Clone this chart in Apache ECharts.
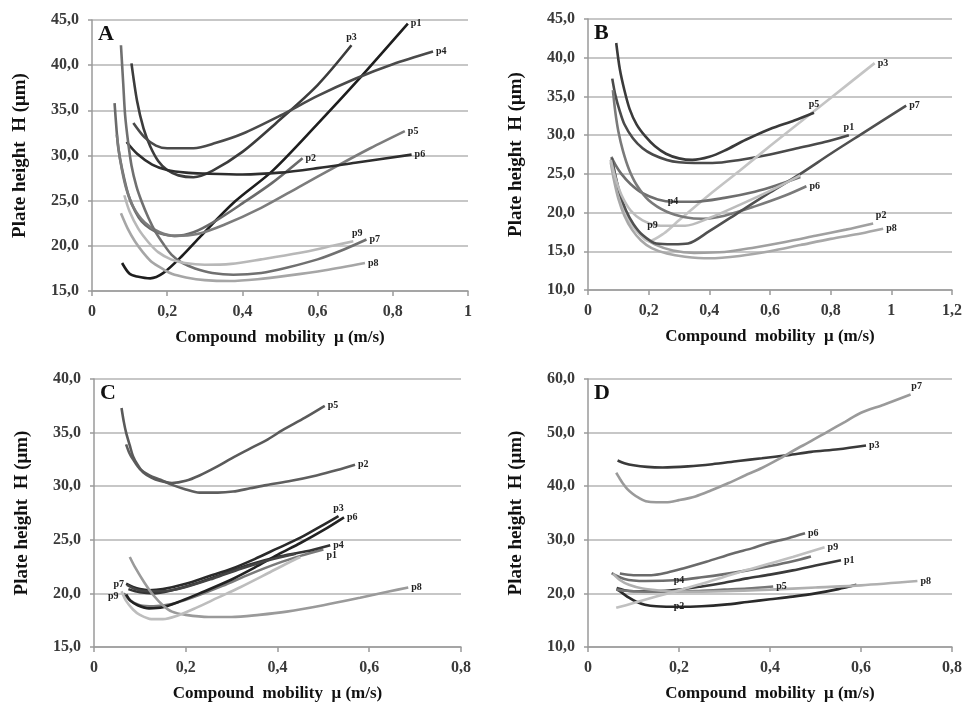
<!DOCTYPE html>
<html><head><meta charset="utf-8">
<script src="https://cdn.jsdelivr.net/npm/echarts@6/dist/echarts.min.js"></script>
<style>html,body{margin:0;padding:0;background:#fff}#c{width:965px;height:703px}</style>
</head><body><div id="c"></div>
<script>
// ---------- DATA ----------
const seriesNames = ['p1','p2','p3','p4','p5','p6','p7','p8','p9'];
// Panel A
const A_p1 = [[0.08,18.1],[0.1,16.9],[0.12,16.6],[0.155,16.4],[0.19,17.0],[0.24,18.9],[0.29,21.1],[0.38,24.9],[0.48,28.3],[0.6,33.5],[0.7,38.0],[0.84,44.6]];
const A_p2 = [[0.06,35.8],[0.065,33.0],[0.07,30.8],[0.08,28.5],[0.097,25.6],[0.115,23.8],[0.132,22.7],[0.155,21.9],[0.18,21.4],[0.22,21.1],[0.27,21.5],[0.33,22.8],[0.4,24.7],[0.48,27.0],[0.56,29.7]];
const A_p3 = [[0.105,40.2],[0.12,36.0],[0.137,33.0],[0.155,31.0],[0.176,29.4],[0.2,28.4],[0.23,27.8],[0.27,27.6],[0.32,28.3],[0.4,30.4],[0.49,33.6],[0.6,37.8],[0.69,42.2]];
const A_p4 = [[0.11,33.6],[0.14,32.0],[0.17,31.1],[0.2,30.8],[0.27,30.8],[0.33,31.4],[0.4,32.4],[0.5,34.4],[0.6,36.6],[0.7,38.5],[0.8,40.1],[0.907,41.5]];
const A_p5 = [[0.066,32.3],[0.075,29.5],[0.09,26.5],[0.11,24.3],[0.14,22.6],[0.18,21.5],[0.22,21.1],[0.28,21.3],[0.35,22.3],[0.45,24.2],[0.55,26.5],[0.65,28.8],[0.74,30.8],[0.832,32.7]];
const A_p6 = [[0.092,31.5],[0.12,30.2],[0.16,29.0],[0.2,28.4],[0.25,28.1],[0.3,28.0],[0.4,27.9],[0.5,28.1],[0.6,28.6],[0.7,29.2],[0.85,30.1]];
const A_p7 = [[0.077,42.2],[0.083,38.0],[0.088,34.5],[0.096,31.5],[0.105,28.9],[0.118,26.6],[0.132,24.9],[0.15,23.1],[0.168,21.6],[0.19,20.2],[0.212,19.0],[0.24,18.1],[0.274,17.5],[0.32,17.0],[0.376,16.8],[0.45,17.0],[0.52,17.6],[0.6,18.5],[0.67,19.6],[0.73,20.7]];
const A_p8 = [[0.077,23.6],[0.095,21.9],[0.114,20.5],[0.135,19.3],[0.159,18.2],[0.19,17.4],[0.212,16.9],[0.25,16.5],[0.3,16.2],[0.367,16.1],[0.44,16.3],[0.52,16.7],[0.62,17.3],[0.726,18.1]];
const A_p9 = [[0.086,25.6],[0.1,23.8],[0.123,21.9],[0.15,20.4],[0.176,19.3],[0.21,18.5],[0.247,18.1],[0.3,17.9],[0.37,18.0],[0.45,18.5],[0.55,19.2],[0.64,20.0],[0.695,20.5]];
// Panel B
const B_p1 = [[0.08,37.3],[0.09,35.2],[0.104,33.2],[0.12,31.4],[0.148,29.6],[0.18,28.3],[0.213,27.5],[0.26,26.8],[0.3,26.5],[0.35,26.4],[0.41,26.4],[0.5,26.8],[0.6,27.5],[0.7,28.4],[0.78,29.1],[0.86,30.0]];
const B_p2 = [[0.08,27.0],[0.09,24.8],[0.105,22.3],[0.125,20.0],[0.15,18.2],[0.18,16.9],[0.22,15.9],[0.28,15.1],[0.35,14.8],[0.45,14.9],[0.55,15.5],[0.65,16.2],[0.75,17.0],[0.85,17.8],[0.94,18.6]];
const B_p3 = [[0.075,26.8],[0.09,23.8],[0.11,21.0],[0.135,18.9],[0.17,17.2],[0.2,16.3],[0.25,17.3],[0.3,19.0],[0.4,22.3],[0.5,25.4],[0.6,28.6],[0.7,31.7],[0.8,34.8],[0.945,39.3]];
const B_p4 = [[0.077,27.2],[0.09,26.2],[0.11,25.0],[0.14,23.7],[0.18,22.5],[0.23,21.7],[0.28,21.4],[0.35,21.4],[0.45,21.9],[0.55,22.7],[0.62,23.5],[0.7,24.6]];
const B_p5 = [[0.093,41.9],[0.105,38.5],[0.12,35.8],[0.137,33.4],[0.16,31.4],[0.19,29.8],[0.22,28.6],[0.257,27.6],[0.3,27.0],[0.344,26.8],[0.4,27.2],[0.45,28.0],[0.52,29.4],[0.6,30.8],[0.68,31.9],[0.745,32.9]];
const B_p6 = [[0.082,35.8],[0.09,33.0],[0.1,30.5],[0.115,28.0],[0.135,25.6],[0.16,23.6],[0.2,21.6],[0.26,20.1],[0.32,19.4],[0.38,19.2],[0.45,19.6],[0.55,20.8],[0.65,22.2],[0.72,23.4]];
const B_p7 = [[0.078,27.0],[0.09,24.8],[0.105,22.5],[0.125,20.3],[0.15,18.5],[0.18,17.1],[0.225,16.0],[0.28,15.9],[0.33,16.0],[0.4,17.6],[0.5,20.1],[0.6,22.6],[0.7,25.0],[0.8,27.6],[0.9,30.1],[1.049,33.8]];
const B_p8 = [[0.075,26.5],[0.085,24.3],[0.1,21.8],[0.12,19.6],[0.145,17.8],[0.175,16.4],[0.21,15.4],[0.26,14.7],[0.32,14.3],[0.4,14.1],[0.5,14.4],[0.6,15.0],[0.7,15.8],[0.8,16.6],[0.9,17.3],[0.973,17.9]];
const B_p9 = [[0.075,26.8],[0.09,24.5],[0.11,22.3],[0.14,20.3],[0.18,19.0],[0.24,18.3],[0.32,18.3],[0.4,19.3],[0.5,21.0],[0.6,22.8],[0.7,24.8]];
// Panel C
const C_p1 = [[0.065,20.0],[0.08,19.3],[0.1,18.9],[0.13,18.8],[0.17,19.0],[0.22,19.7],[0.28,20.7],[0.34,21.8],[0.4,22.8],[0.45,23.5],[0.5,24.1]];
const C_p2 = [[0.07,33.9],[0.077,33.1],[0.085,32.5],[0.1,31.6],[0.121,31.0],[0.145,30.6],[0.172,30.1],[0.2,29.7],[0.23,29.4],[0.27,29.4],[0.303,29.5],[0.34,29.8],[0.376,30.1],[0.43,30.5],[0.485,31.0],[0.53,31.5],[0.569,32.0]];
const C_p3 = [[0.07,20.9],[0.085,20.6],[0.1,20.4],[0.12,20.3],[0.15,20.4],[0.2,20.9],[0.25,21.6],[0.3,22.3],[0.35,23.2],[0.4,24.2],[0.45,25.2],[0.5,26.4],[0.533,27.2]];
const C_p4 = [[0.075,20.4],[0.1,20.1],[0.13,20.0],[0.17,20.3],[0.22,20.9],[0.28,21.8],[0.34,22.7],[0.4,23.4],[0.46,23.9],[0.515,24.5]];
const C_p5 = [[0.06,37.3],[0.065,36.0],[0.07,35.0],[0.078,33.8],[0.085,32.8],[0.095,32.0],[0.107,31.3],[0.125,30.8],[0.143,30.5],[0.17,30.3],[0.2,30.5],[0.23,31.0],[0.267,31.8],[0.3,32.6],[0.34,33.5],[0.38,34.4],[0.41,35.2],[0.46,36.4],[0.503,37.5]];
const C_p6 = [[0.07,19.9],[0.08,19.3],[0.095,18.9],[0.12,18.6],[0.15,18.7],[0.19,19.3],[0.23,20.0],[0.3,21.3],[0.35,22.4],[0.4,23.6],[0.45,24.7],[0.5,25.9],[0.545,27.1]];
const C_p7 = [[0.072,20.8],[0.09,20.4],[0.115,20.2],[0.15,20.2],[0.2,20.6],[0.26,21.4],[0.32,22.3],[0.38,23.1],[0.44,23.7]];
const C_p8 = [[0.078,23.4],[0.09,22.4],[0.11,21.0],[0.13,19.8],[0.15,18.9],[0.17,18.3],[0.2,18.0],[0.25,17.8],[0.3,17.8],[0.36,18.0],[0.42,18.3],[0.5,18.9],[0.58,19.6],[0.645,20.2],[0.685,20.55]];
const C_p9 = [[0.06,20.2],[0.07,19.3],[0.085,18.5],[0.1,18.0],[0.125,17.6],[0.15,17.6],[0.18,17.9],[0.22,18.6],[0.27,19.6],[0.32,20.6],[0.38,21.9],[0.43,23.0],[0.45,23.4]];
// Panel D
const D_p1 = [[0.063,21.0],[0.08,20.6],[0.1,20.4],[0.15,20.4],[0.2,20.7],[0.25,21.3],[0.3,22.0],[0.35,22.8],[0.4,23.5],[0.45,24.3],[0.5,25.2],[0.556,26.2]];
const D_p2 = [[0.063,20.8],[0.075,20.1],[0.09,19.2],[0.105,18.5],[0.125,17.9],[0.15,17.6],[0.2,17.5],[0.25,17.6],[0.3,17.9],[0.35,18.4],[0.4,18.9],[0.45,19.4],[0.5,20.0],[0.55,20.8],[0.59,21.6]];
const D_p3 = [[0.065,44.8],[0.08,44.3],[0.1,43.9],[0.13,43.6],[0.164,43.5],[0.22,43.7],[0.273,44.1],[0.33,44.7],[0.382,45.2],[0.44,45.8],[0.49,46.4],[0.55,46.9],[0.611,47.6]];
const D_p4 = [[0.052,23.8],[0.065,23.2],[0.08,22.7],[0.1,22.4],[0.127,22.3],[0.2,22.5],[0.25,23.0],[0.3,23.6],[0.35,24.3],[0.4,25.1],[0.45,26.0],[0.49,26.9]];
const D_p5 = [[0.063,20.7],[0.08,20.5],[0.1,20.4],[0.15,20.3],[0.2,20.3],[0.25,20.5],[0.3,20.7],[0.35,20.9],[0.407,21.3]];
const D_p6 = [[0.07,23.7],[0.1,23.4],[0.139,23.4],[0.175,23.9],[0.211,24.7],[0.26,25.9],[0.32,27.5],[0.36,28.4],[0.393,29.3],[0.44,30.3],[0.477,31.2]];
const D_p7 = [[0.062,42.5],[0.07,41.4],[0.076,40.6],[0.086,39.5],[0.098,38.6],[0.112,37.8],[0.127,37.2],[0.15,37.0],[0.171,37.0],[0.2,37.4],[0.236,38.1],[0.27,39.2],[0.309,40.6],[0.345,42.0],[0.382,43.4],[0.42,45.1],[0.455,46.8],[0.49,48.4],[0.527,50.2],[0.565,52.0],[0.6,53.7],[0.65,55.2],[0.709,57.1]];
const D_p8 = [[0.055,23.7],[0.07,22.5],[0.09,21.6],[0.12,20.9],[0.16,20.5],[0.2,20.3],[0.3,20.4],[0.4,20.7],[0.5,21.1],[0.6,21.5],[0.724,22.3]];
const D_p9 = [[0.062,17.3],[0.1,18.2],[0.15,19.4],[0.2,20.6],[0.25,21.8],[0.3,23.1],[0.35,24.4],[0.4,25.6],[0.45,26.8],[0.52,28.6]];

// ---------- STYLE ----------
const FONT = '"Liberation Serif","Times New Roman",serif';
const panelDefs = [
  {letter:'A', data:{p1:A_p1,p2:A_p2,p3:A_p3,p4:A_p4,p5:A_p5,p6:A_p6,p7:A_p7,p8:A_p8,p9:A_p9},
   grid:{left:92,top:20,width:376,height:271}, xMax:1, yMin:15, yMax:45, yInt:5,
   colors:{p1:'#1e1e1e',p2:'#6a6a6a',p3:'#3c3c3c',p4:'#4a4a4a',p5:'#7c7c7c',p6:'#2e2e2e',p7:'#707070',p8:'#a6a6a6',p9:'#b8b8b8'},
   labels:{p3:{pos:'top'},p9:{pos:'top',offset:[4,0]}}},
  {letter:'B', data:{p1:B_p1,p2:B_p2,p3:B_p3,p4:B_p4,p5:B_p5,p6:B_p6,p7:B_p7,p8:B_p8,p9:B_p9},
   grid:{left:588,top:19,width:367,height:271}, xMax:1.2, yMin:10, yMax:45, yInt:5,
   colors:{p1:'#4a4a4a',p2:'#a0a0a0',p3:'#c4c4c4',p4:'#6e6e6e',p5:'#3a3a3a',p6:'#7a7a7a',p7:'#505050',p8:'#a8a8a8',p9:'#bcbcbc'},
   labels:{p5:{pos:'top'},p1:{pos:'top'},p2:{pos:'top',offset:[8,0]},p4:{at:6,pos:'inside'},p9:{at:5,pos:'left'}}},
  {letter:'C', data:{p1:C_p1,p2:C_p2,p3:C_p3,p4:C_p4,p5:C_p5,p6:C_p6,p7:C_p7,p8:C_p8,p9:C_p9},
   grid:{left:94,top:379,width:367,height:270}, xMax:0.8, yMin:15, yMax:40, yInt:5,
   colors:{p1:'#7a7a7a',p2:'#5e5e5e',p3:'#2a2a2a',p4:'#333333',p5:'#5a5a5a',p6:'#222222',p7:'#444444',p8:'#9a9a9a',p9:'#bdbdbd'},
   labels:{p3:{pos:'top'},p1:{pos:'right',offset:[0,6]},p7:{at:0,pos:'left'},p9:{at:0,pos:'left',offset:[0,5]}}},
  {letter:'D', data:{p1:D_p1,p2:D_p2,p3:D_p3,p4:D_p4,p5:D_p5,p6:D_p6,p7:D_p7,p8:D_p8,p9:D_p9},
   grid:{left:588,top:379,width:367,height:268}, xMax:0.8, yMin:10, yMax:60, yInt:10,
   colors:{p1:'#3a3a3a',p2:'#2a2a2a',p3:'#3a3a3a',p4:'#6e6e6e',p5:'#777777',p6:'#6a6a6a',p7:'#9a9a9a',p8:'#b0b0b0',p9:'#c0c0c0'},
   labels:{p7:{pos:'top',offset:[6,0]},p4:{at:5,pos:'inside'},p2:{at:6,pos:'inside'}}}
];

const fmtY = v => v.toFixed(1).replace('.', ',');
const fmtX = v => String(Math.round(v*10)/10).replace('.', ',');

const option = {animation:false, backgroundColor:'#fff', grid:[], xAxis:[], yAxis:[], series:[], title:[]};
panelDefs.forEach((p, i) => {
  option.grid.push(Object.assign({containLabel:false}, p.grid));
  option.title.push({text:p.letter, left:p.grid.left+6, top:p.grid.top+3, padding:0,
    textStyle:{fontFamily:FONT, fontWeight:'bold', fontSize:22, color:'#111'}});
  option.xAxis.push({type:'value', gridIndex:i, min:0, max:p.xMax, interval:0.2,
    name:'Compound  mobility  μ (m/s)', nameLocation:'middle', nameGap:38,
    nameTextStyle:{fontFamily:FONT, fontWeight:'bold', fontSize:17, color:'#111'},
    axisLine:{show:true, lineStyle:{color:'#9a9a9a', width:1.5}},
    axisTick:{show:true, length:5, lineStyle:{color:'#9a9a9a', width:1.5}},
    splitLine:{show:false},
    axisLabel:{formatter:fmtX, margin:13, fontFamily:FONT, fontWeight:'bold', fontSize:16, color:'#3a3a3a'}});
  option.yAxis.push({type:'value', gridIndex:i, min:p.yMin, max:p.yMax, interval:p.yInt,
    name:'Plate height  H (μm)', nameLocation:'middle', nameGap:62,
    nameTextStyle:{fontFamily:FONT, fontWeight:'bold', fontSize:19, color:'#111'},
    axisLine:{show:true, lineStyle:{color:'#9a9a9a', width:1.5}},
    axisTick:{show:true, length:4, lineStyle:{color:'#9a9a9a', width:1.5}},
    splitLine:{show:true, lineStyle:{color:'#b4b4b4', width:1.5}},
    axisLabel:{formatter:fmtY, margin:13, fontFamily:FONT, fontWeight:'bold', fontSize:16, color:'#3a3a3a'}});
  seriesNames.forEach(name => {
    const pts = p.data[name];
    const lab = p.labels[name] || {};
    const at = lab.at === undefined ? pts.length-1 : lab.at;
    const data = pts.map((pt, k) => k === at ? {value:pt, label:{show:true, formatter:name,
      position:lab.pos || 'right', offset:lab.offset || [0,0], distance:3,
      fontFamily:FONT, fontWeight:'bold', fontSize:10, color:'#222'}} : pt);
    option.series.push({type:'line', name:name+' '+p.letter, xAxisIndex:i, yAxisIndex:i,
      data:data, smooth:0.3, symbol:'circle', symbolSize:0, showSymbol:true, showAllSymbol:true,
      lineStyle:{color:p.colors[name], width:2.6}, itemStyle:{color:p.colors[name]}, label:{show:false}});
  });
});

const chart = echarts.init(document.getElementById('c'), null, {renderer:'canvas'});
chart.setOption(option);
</script>
</body></html>
